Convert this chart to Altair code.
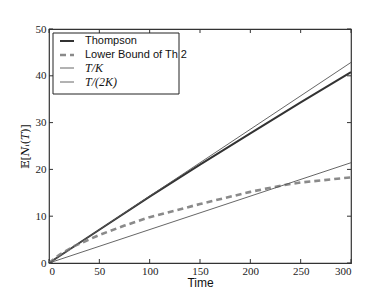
import altair as alt
import pandas as pd

# ---- data ----
series_names = ["Thompson", "Lower Bound of Th 2", "T/K", "T/(2K)"]

thompson_t = [0, 50, 100, 150, 200, 250, 300]
thompson_v = [0, 7.1, 14.2, 21.0, 27.7, 34.3, 40.8]

lower_t = [0, 10, 25, 50, 75, 100, 150, 200, 232, 250, 300]
lower_v = [0, 1.7, 3.6, 6.0, 8.0, 9.8, 12.6, 15.2, 16.6, 17.2, 18.3]

tk_t = [0, 300]
tk_v = [0, 42.86]

t2k_t = [0, 300]
t2k_v = [0, 21.43]

x_ticks = [0, 50, 100, 150, 200, 250, 300]
y_ticks = [0, 10, 20, 30, 40, 50]

rows = []
for name, ts, vs in zip(series_names,
                        [thompson_t, lower_t, tk_t, t2k_t],
                        [thompson_v, lower_v, tk_v, t2k_v]):
    for t, v in zip(ts, vs):
        rows.append({"series": name, "t": t, "v": v})
lines_df = pd.DataFrame(rows)
legend_df = pd.DataFrame({"series": series_names})
xt_df = pd.DataFrame({"t": x_ticks})
yt_df = pd.DataFrame({"v": y_ticks})

W, H = 302, 234

styles = {
    "Thompson": dict(color="#333333", strokeWidth=2.0),
    "Lower Bound of Th 2": dict(color="#8a8a8a", strokeWidth=2.6, strokeDash=[6, 4]),
    "T/K": dict(color="#555555", strokeWidth=0.9),
    "T/(2K)": dict(color="#555555", strokeWidth=0.9),
}

xs = alt.Scale(domain=[0, 300], nice=False)
ys = alt.Scale(domain=[0, 50], nice=False)

X = alt.X("t:Q", scale=xs, title="Time",
          axis=alt.Axis(values=x_ticks, ticks=False, domain=False, grid=False,
                        labelFont="Liberation Serif", labelFontSize=11, labelPadding=2,
                        labelColor="#222", titleFont="Liberation Sans", titleFontSize=12,
                        titleFontWeight="normal", titlePadding=1, titleColor="#111"))
Y = alt.Y("v:Q", scale=ys, title="𝔼[𝑁ᵢ(𝑇)]",
          axis=alt.Axis(values=y_ticks, ticks=False, domain=False, grid=False,
                        labelFont="Liberation Serif", labelFontSize=11, labelPadding=3,
                        labelColor="#222", titleFont="DejaVu Serif", titleFontSize=11,
                        titleFontWeight="normal", titlePadding=5, titleColor="#111"))

layers = []
for name in series_names:
    layers.append(
        alt.Chart(lines_df).transform_filter(alt.datum.series == name)
        .mark_line(**styles[name]).encode(x=X, y=Y)
    )

tick_color = "#333"
layers += [
    alt.Chart(xt_df).mark_rule(color=tick_color).encode(x=X, y=alt.value(H), y2=alt.value(H - 4)),
    alt.Chart(xt_df).mark_rule(color=tick_color).encode(x=X, y=alt.value(0), y2=alt.value(4)),
    alt.Chart(yt_df).mark_rule(color=tick_color).encode(y=Y, x=alt.value(0), x2=alt.value(4)),
    alt.Chart(yt_df).mark_rule(color=tick_color).encode(y=Y, x=alt.value(W), x2=alt.value(W - 4)),
]

# ---- hand-made legend ----
layers.append(
    alt.Chart(pd.DataFrame({"k": [0]})).mark_rect(
        fill="white", stroke="#222", strokeWidth=1).encode(
        x=alt.value(4), x2=alt.value(130), y=alt.value(4), y2=alt.value(65))
)
row_y = [12, 26, 39, 53]
for i, name in enumerate(series_names):
    base = alt.Chart(legend_df).transform_filter(alt.datum.series == name)
    layers.append(base.mark_rule(**styles[name]).encode(
        x=alt.value(11), x2=alt.value(25), y=alt.value(row_y[i])))
    if i < 2:
        txt = base.mark_text(align="left", baseline="middle", font="Liberation Sans",
                             fontSize=11, color="#111")
    else:
        txt = base.mark_text(align="left", baseline="middle", font="Liberation Serif",
                             fontSize=12, fontStyle="italic", color="#111")
    layers.append(txt.encode(x=alt.value(36), y=alt.value(row_y[i]), text="series:N"))

chart = alt.layer(*layers).properties(
    width=W, height=H,
    autosize=alt.AutoSizeParams(type="none"),
    padding={"left": 41, "top": 21, "right": 30, "bottom": 28},
).configure_view(stroke="#333", strokeWidth=1.2)

chart.save("out.html", embed_options={"renderer": "svg", "actions": False})
